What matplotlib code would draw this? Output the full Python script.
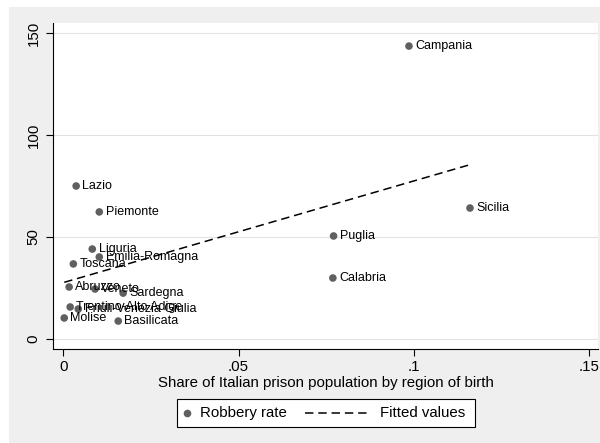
import matplotlib
matplotlib.use("Agg")
import matplotlib.pyplot as plt
import numpy as np
from matplotlib.lines import Line2D
from matplotlib.patches import Rectangle

plt.rcParams["font.family"] = ["Liberation Sans", "DejaVu Sans"]

regions = [
    "Campania", "Sicilia", "Puglia", "Calabria", "Lazio", "Piemonte",
    "Liguria", "Emilia-Romagna", "Toscana", "Abruzzo", "Veneto", "Sardegna",
    "Trentino-Alto Adige", "Friuli-Venezia Giulia", "Molise", "Basilicata",
]
prison_share = [
    0.0986, 0.1160, 0.0771, 0.0769, 0.0037, 0.0103,
    0.0083, 0.0103, 0.0029, 0.0017, 0.0091, 0.0171,
    0.0020, 0.0043, 0.0003, 0.0157,
]
robbery_rate = [
    143.6, 64.2, 50.5, 29.9, 75.0, 62.3,
    44.1, 40.2, 36.8, 25.5, 24.5, 22.5,
    15.7, 14.7, 10.3, 8.8,
]
x_ticks = [0, 0.05, 0.10, 0.15]
x_tick_labels = ["0", ".05", ".1", ".15"]
y_ticks = [0, 50, 100, 150]
legend_labels = ["Robbery rate", "Fitted values"]

W, H = 600, 443
BG = "#efefef"
MARKER = "#606060"
DASH = (0, (5.5, 3.2))
FS = 10.8


def fx(px):
    return px / W


def fy(py):
    # pixel rows counted from the top
    return 1 - py / H


x = np.array(prison_share)
y = np.array(robbery_rate)
slope, intercept = np.polyfit(x, y, 1)
fit_x = np.array([x.min(), x.max()])
fit_y = intercept + slope * fit_x

fig = plt.figure(figsize=(W / 100, H / 100), dpi=100)
fig.patch.set_facecolor("white")
fig.patches.append(
    Rectangle((fx(9), 0), 1, fy(7), transform=fig.transFigure,
              facecolor=BG, edgecolor="none", zorder=-10)
)

ax = fig.add_axes([fx(53), fy(349), fx(545), 326 / H])
ax.set_facecolor("white")

ax.scatter(x, y, s=30, color=MARKER, edgecolors="none", zorder=3)
for name, px, py in zip(regions, x, y):
    ax.annotate(name, (px, py), xytext=(4.5, 0), textcoords="offset points",
                va="center", ha="left", fontsize=9, color="black", zorder=4)

ax.plot(fit_x, fit_y, color="black", lw=1.1, ls=DASH, zorder=2)

ax.set_xlim(-0.0029, 0.1525)
ax.set_ylim(-4.9, 154.9)
ax.set_xticks(x_ticks)
ax.set_xticklabels(x_tick_labels)
ax.set_yticks(y_ticks)
ax.grid(axis="y", color="#e2e2e2", lw=0.8)
ax.set_axisbelow(True)

for side in ("top", "right"):
    ax.spines[side].set_visible(False)
for side in ("left", "bottom"):
    ax.spines[side].set_linewidth(0.8)

ax.tick_params(axis="both", length=5, width=0.8, labelsize=FS, pad=3)
ax.tick_params(axis="y", labelrotation=90, pad=4)
for lbl in ax.get_yticklabels():
    lbl.set_va("center")

ax.set_xlabel("Share of Italian prison population by region of birth",
              fontsize=FS, labelpad=1)

# legend box below the axis title: short key for the marker, long one for the line
fig.patches.append(
    Rectangle((fx(177), fy(427)), fx(298), 28 / H, transform=fig.transFigure,
              facecolor="white", edgecolor="black", lw=0.8, zorder=5)
)
key_y = fy(413)
fig.lines.append(
    Line2D([fx(187)], [key_y], transform=fig.transFigure, marker="o",
           color="none", markerfacecolor=MARKER, markeredgecolor="none",
           markersize=5.5, zorder=6)
)
fig.lines.append(
    Line2D([fx(305), fx(368)], [key_y, key_y], transform=fig.transFigure,
           color="black", lw=1.1, ls=DASH, zorder=6)
)
fig.text(fx(200), key_y, legend_labels[0], fontsize=FS, va="center",
         ha="left", zorder=6)
fig.text(fx(380), key_y, legend_labels[1], fontsize=FS, va="center",
         ha="left", zorder=6)

fig.savefig("out.png", dpi=100, facecolor=fig.get_facecolor())
